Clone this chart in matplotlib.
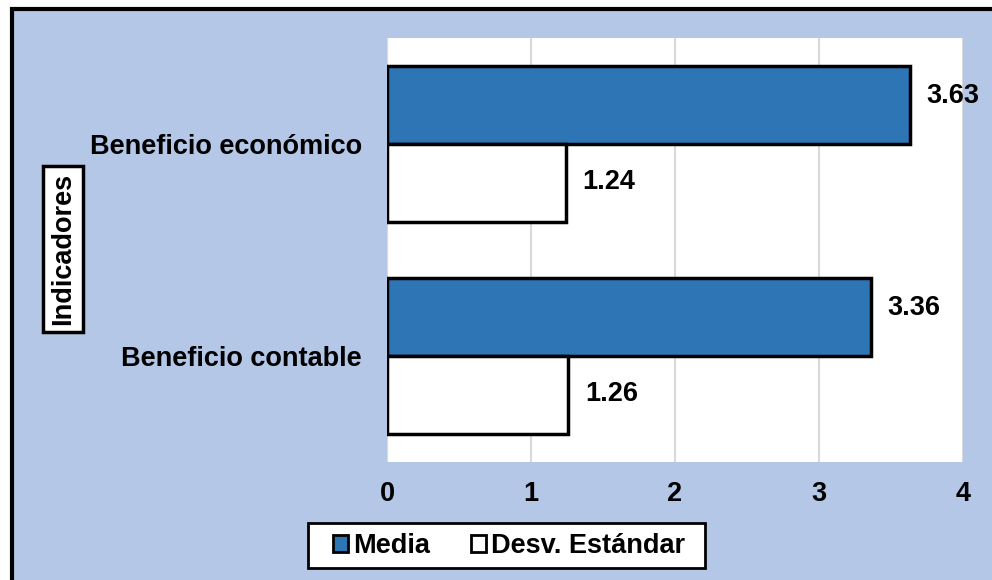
import matplotlib
matplotlib.use("Agg")
import matplotlib.pyplot as plt
from matplotlib.patches import Rectangle, Patch
import numpy as np

categories = ["Beneficio contable", "Beneficio económico"]
media = [3.36, 3.63]
desv = [1.26, 1.24]
series_names = ["Media", "Desv. Estándar"]
xticks = [0, 1, 2, 3, 4]

plt.rcParams['font.family'] = ['Liberation Sans', 'DejaVu Sans']
BG = "#B4C7E7"
BLUE = "#2E75B6"
FS = 19.5

W, H = 992, 580
fig = plt.figure(figsize=(W / 100, H / 100), dpi=100)
fig.patch.set_facecolor("white")

# outer light-blue chart area with black frame (cropped right/bottom)
fig.patches.append(Rectangle((12 / W, -0.05), 1.1, (H - 9) / H + 0.05,
                             transform=fig.transFigure, facecolor=BG,
                             edgecolor="black", linewidth=3, zorder=-10))

ax = fig.add_axes([387 / W, 1 - 462 / H, (963 - 387) / W, (462 - 38) / H])
ax.set_zorder(1)
ax.set_facecolor("white")

y = np.arange(len(categories))
h = 0.37
ax.barh(y + h / 2, media, height=h, color=BLUE, edgecolor="black",
        linewidth=2.5, zorder=3)
ax.barh(y - h / 2, desv, height=h, color="white", edgecolor="black",
        linewidth=2.5, zorder=3)

for yi, v in zip(y + h / 2, media):
    ax.annotate(f"{v:.2f}", (v, yi), xytext=(12, 6), textcoords="offset points",
                va="center", ha="left", fontsize=FS, fontweight="bold",
                annotation_clip=False, zorder=5)
for yi, v in zip(y - h / 2, desv):
    ax.annotate(f"{v:.2f}", (v, yi), xytext=(12, 1), textcoords="offset points",
                va="center", ha="left", fontsize=FS, fontweight="bold",
                annotation_clip=False, zorder=5)

ax.set_xlim(0, 4)
ax.set_ylim(-0.5, len(categories) - 0.5)
ax.set_xticks(xticks)
ax.set_xticklabels([str(t) for t in xticks], fontsize=FS, fontweight="bold")
ax.set_yticks(y)
ax.set_yticklabels(categories, fontsize=FS, fontweight="bold")
ax.tick_params(axis="both", length=0)
ax.tick_params(axis="x", pad=14)
ax.tick_params(axis="y", pad=18)
ax.grid(axis="x", color="#D9D9D9", linewidth=1.5, zorder=0)
for s in ax.spines.values():
    s.set_visible(False)

fig.text(63 / W, 1 - 249 / H, "Indicadores", rotation=90, ha="center",
         va="center", fontsize=FS, fontweight="bold",
         bbox=dict(boxstyle="square,pad=0.27", facecolor="white",
                   edgecolor="black", linewidth=2.5))

# legend box
fig.patches.append(Rectangle((308 / W, 1 - 568 / H), (705 - 308) / W, 45 / H,
                             transform=fig.transFigure, facecolor="white",
                             edgecolor="black", linewidth=2, zorder=2))
handles = [Patch(facecolor=BLUE, edgecolor="black", linewidth=2),
           Patch(facecolor="white", edgecolor="black", linewidth=2)]
leg = fig.legend(handles, series_names, loc="center",
                 bbox_to_anchor=(509 / W, 1 - 546 / H), ncol=2,
                 prop={"weight": "bold", "size": FS},
                 frameon=False, handlelength=0.55, handleheight=0.55,
                 handletextpad=0.2, columnspacing=1.5, borderpad=0.3)
leg.set_zorder(3)

fig.savefig("out.png", dpi=100, facecolor=fig.get_facecolor())
